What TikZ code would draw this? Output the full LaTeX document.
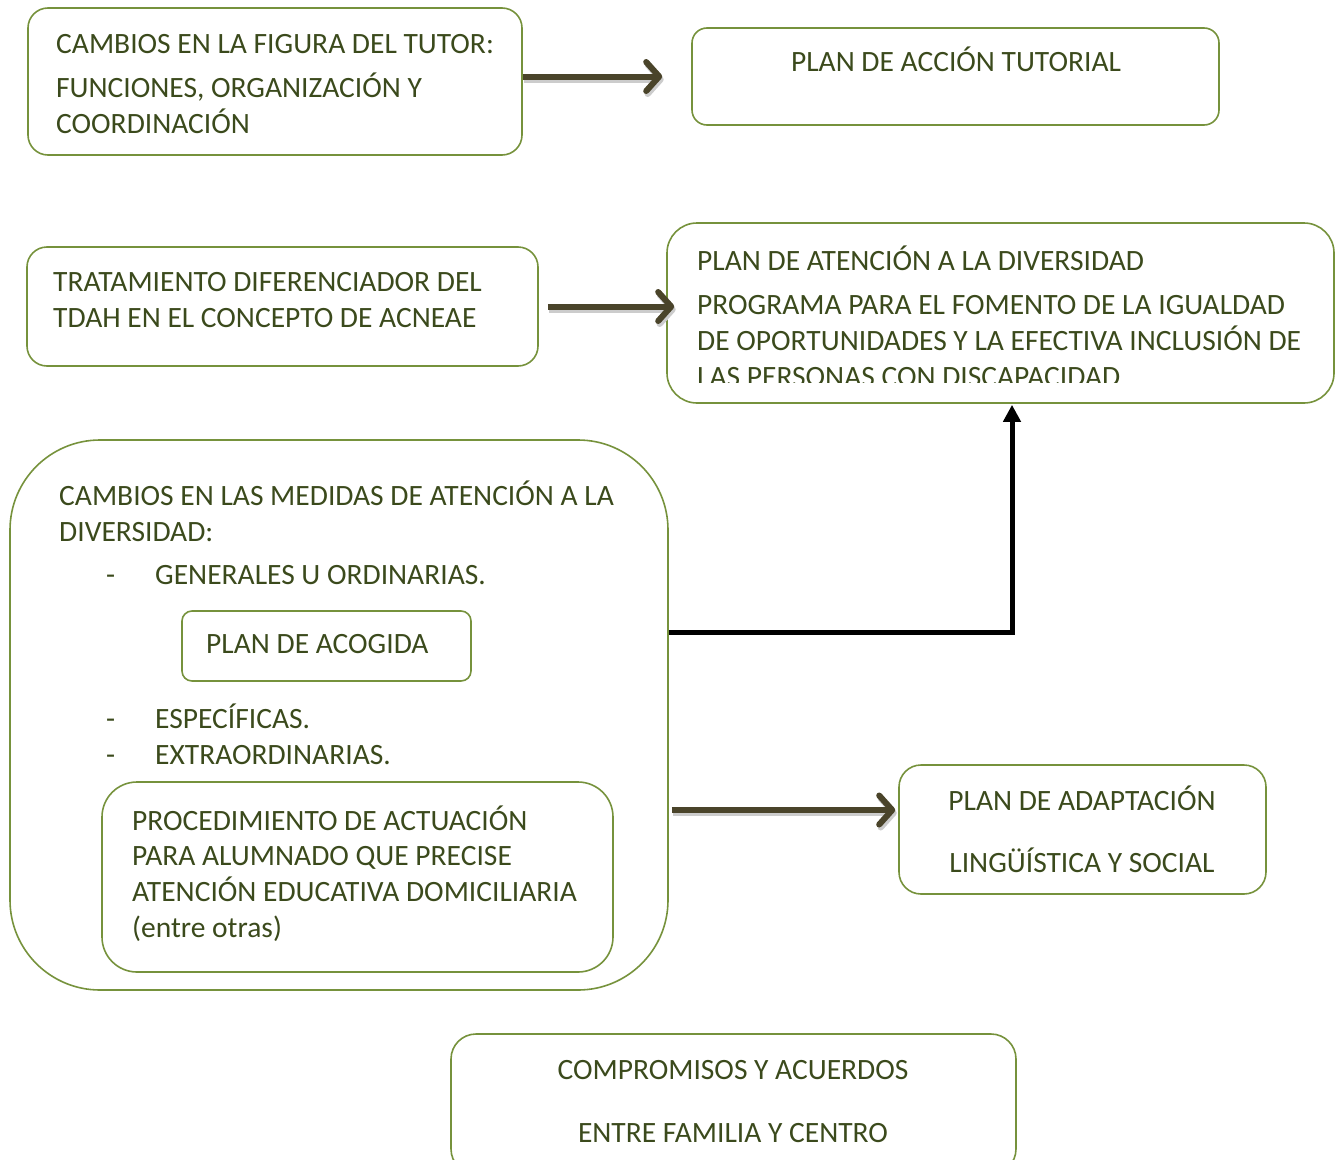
\documentclass[tikz,border=0pt]{standalone}
\usepackage{fontspec}
\setmainfont{Carlito}
\usetikzlibrary{arrows.meta,calc}
\definecolor{bord}{HTML}{76923C}
\definecolor{txt}{HTML}{3B4A1C}
\definecolor{arr}{HTML}{4A442A}
\tikzset{
  box/.style={draw=bord, line width=1.6pt, inner sep=0pt},
  tx/.style={anchor=base west, inner sep=0pt, text=txt, font=\fontsize{29.5}{35}\selectfont},
  txc/.style={anchor=base, inner sep=0pt, text=txt, font=\fontsize{29.5}{35}\selectfont},
  brarrow/.style={draw=arr, line width=6pt, -{Straight Barb[length=13pt,width=29pt,round]}},
  brshadow/.style={draw=black!20, line width=6pt, -{Straight Barb[length=13pt,width=29pt,round]}, transform canvas={shift={(1.5pt,-3pt)}}},
  blkarrow/.style={draw=black, line width=5pt, -{Triangle[length=17pt,width=17pt]}}
}
\begin{document}
\begin{tikzpicture}[x=1pt,y=-1pt]
\useasboundingbox (0,0) rectangle (1341,1159);
% boxes
\node[box, rounded corners=20pt, minimum width=494pt, minimum height=147pt] (tutor) at (275,81.5) {};
\node[box, rounded corners=15pt, minimum width=527pt, minimum height=97pt] (pat) at (955.5,76.5) {};
\node[box, rounded corners=20pt, minimum width=511pt, minimum height=119pt] (tdah) at (282.5,306.5) {};
\node[box, rounded corners=30pt, minimum width=667pt, minimum height=180pt] (pad) at (1000.5,313) {};
\node[box, rounded corners=90pt, minimum width=658pt, minimum height=550pt] (big) at (339,715) {};
\node[box, rounded corners=10pt, minimum width=289pt, minimum height=70pt] (acogida) at (326.5,646) {};
\node[box, rounded corners=35pt, minimum width=511pt, minimum height=190pt] (proc) at (357.5,877) {};
\node[box, rounded corners=22pt, minimum width=367pt, minimum height=129pt] (adapt) at (1082.5,829.5) {};
\node[box, rounded corners=25pt, minimum width=565pt, minimum height=140pt] (comp) at (733.5,1104) {};
% texts
\node[tx] (t1) at (56,53) {CAMBIOS EN LA FIGURA DEL TUTOR:};
\node[tx] (t2) at (56,97) {FUNCIONES, ORGANIZACIÓN Y};
\node[tx] (t3) at (56,133) {COORDINACIÓN};
\node[txc] (t4) at (956,71) {PLAN DE ACCIÓN TUTORIAL};
\node[tx] (t5) at (53,291) {TRATAMIENTO DIFERENCIADOR DEL};
\node[tx] (t6) at (53,327) {TDAH EN EL CONCEPTO DE ACNEAE};
\node[tx] (t7) at (697,270) {PLAN DE ATENCIÓN A LA DIVERSIDAD};
\node[tx] (t8) at (697,314) {PROGRAMA PARA EL FOMENTO DE LA IGUALDAD};
\node[tx] (t9) at (697,350) {DE OPORTUNIDADES Y LA EFECTIVA INCLUSIÓN DE};
\begin{scope}
\clip (667,300) rectangle (1334,382.5);
\node[tx] (t10) at (697,386) {LAS PERSONAS CON DISCAPACIDAD};
\end{scope}
\node[tx] (t11) at (59,505) {CAMBIOS EN LAS MEDIDAS DE ATENCIÓN A LA};
\node[tx] (t12) at (59,541) {DIVERSIDAD:};
\node[tx] (d1) at (106,584) {-};
\node[tx] (t13) at (155,584) {GENERALES U ORDINARIAS.};
\node[tx] (t14) at (206,653) {PLAN DE ACOGIDA};
\node[tx] (d2) at (106,728) {-};
\node[tx] (t15) at (155,728) {ESPECÍFICAS.};
\node[tx] (d3) at (106,764) {-};
\node[tx] (t16) at (155,764) {EXTRAORDINARIAS.};
\node[tx] (t17) at (132,830) {PROCEDIMIENTO DE ACTUACIÓN};
\node[tx] (t18) at (132,865) {PARA ALUMNADO QUE PRECISE};
\node[tx] (t19) at (132,901) {ATENCIÓN EDUCATIVA DOMICILIARIA};
\node[tx] (t20) at (132,937) {(entre otras)};
\node[txc] (t21) at (1082,810) {PLAN DE ADAPTACIÓN};
\node[txc] (t22) at (1082,872) {LINGÜÍSTICA Y SOCIAL};
\node[txc] (t23) at (733,1079) {COMPROMISOS Y ACUERDOS};
\node[txc] (t24) at (733,1142) {ENTRE FAMILIA Y CENTRO};
% connectors
\draw[brshadow] (tutor.east |- pat.west) -- ([xshift=-29pt]pat.west);
\draw[brarrow] (tutor.east |- pat.west) -- ([xshift=-29pt]pat.west);
\draw[brshadow] ([xshift=9pt]tdah.east) -- ([xshift=8pt]pad.west |- tdah.east);
\draw[brarrow] ([xshift=9pt]tdah.east) -- ([xshift=8pt]pad.west |- tdah.east);
\draw[brshadow] ([xshift=3pt,yshift=-95pt]big.east) -- ([xshift=-3pt,yshift=19.5pt]adapt.west);
\draw[brarrow] ([xshift=3pt,yshift=-95pt]big.east) -- ([xshift=-3pt,yshift=19.5pt]adapt.west);
\draw[blkarrow] ([yshift=83pt]big.east) -| ([xshift=11.5pt,yshift=-1pt]pad.south);
\end{tikzpicture}
\end{document}
